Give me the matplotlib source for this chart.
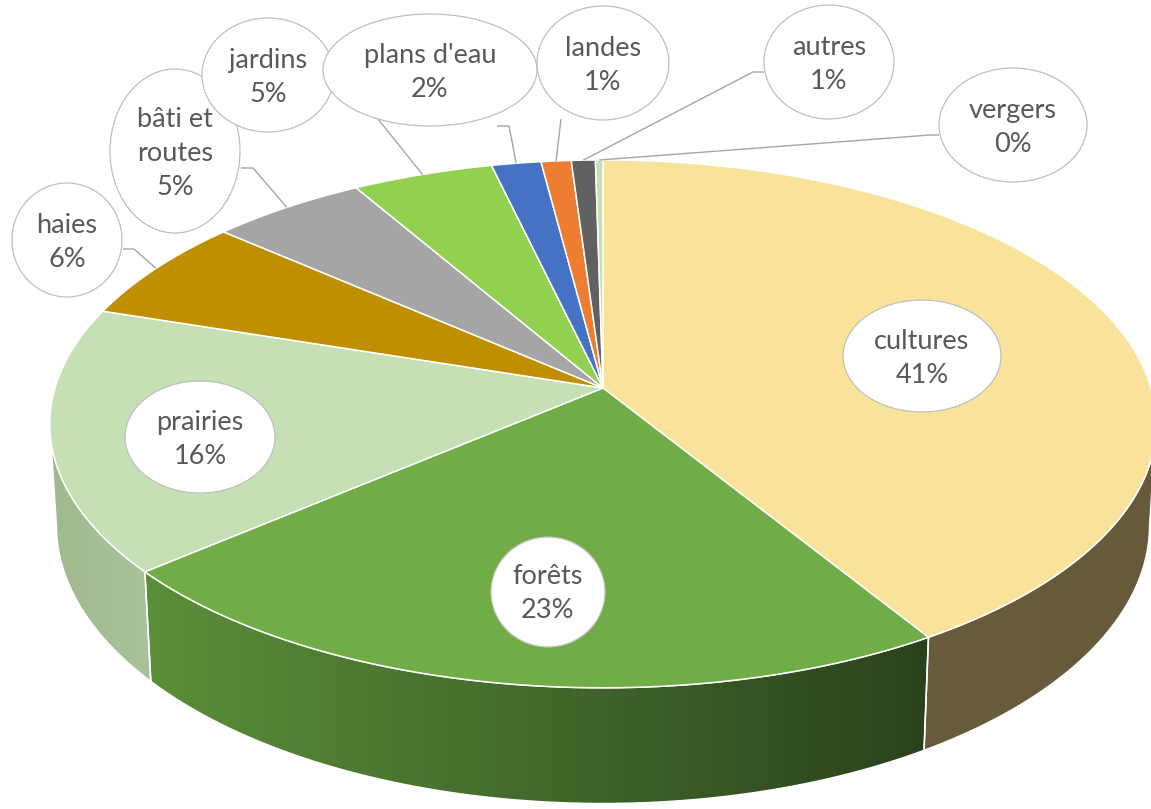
import numpy as np
import matplotlib
matplotlib.use("Agg")
import matplotlib.pyplot as plt
from matplotlib.patches import Polygon, Ellipse
from matplotlib.colors import to_rgb

plt.rcParams['font.family'] = ['Lato', 'DejaVu Sans']

# data (share of area, %)
categories = ["cultures", "forêts", "prairies", "haies", "bâti et routes",
              "jardins", "plans d'eau", "landes", "autres", "vergers"]
label_names = ["cultures", "forêts", "prairies", "haies", "bâti et\nroutes",
               "jardins", "plans d'eau", "landes", "autres", "vergers"]
shares = [41.2, 22.6, 16.2, 6.4, 5.2, 4.7, 1.65, 1.0, 0.8, 0.25]

top_colors = ["#F9E29A", "#70AD47", "#C5E0B4", "#BF8F00", "#A5A5A5",
              "#92D050", "#4472C4", "#ED7D31", "#616161", "#C5E0B4"]
# side wall colours (left, right) for a horizontal gradient
wall_colors = [("#695C3D", "#675A3B"), ("#5B8F3A", "#2A421C"), ("#9FBA8E", "#A8C29B"),
               ("#8F6B00", "#8F6B00"), ("#7C7C7C", "#7C7C7C"), ("#6E9C3C", "#6E9C3C"),
               ("#335593", "#335593"), ("#B25E25", "#B25E25"), ("#494949", "#494949"),
               ("#A3BE94", "#A3BE94")]

# label bubbles: centre and half sizes in pixels
label_xy = [(922, 356), (548, 592), (200, 437), (67, 240), (175, 151),
            (268, 75), (430, 70), (603, 63), (829, 62), (1013, 125)]
label_half = [(79, 56), (57, 55), (75, 56), (55, 57), (65, 82),
              (66, 57), (107, 56), (66, 57), (65, 57), (74, 57)]
# leader line start points (bubble side, elbow); None = no leader
leader_start = [None, None, None,
                [(123, 249), (134, 249)],
                [(241, 168), (253, 168)],
                [(334, 64)],
                [(497, 126), (509, 126)],
                [(561, 119)],
                [(764, 72), (753, 72)],
                [(939, 135), (930, 135)]]

# projection of the tilted pie (pixels)
CX, CY = 603, 388
A, B = 548, 259
K = 0.136
H = 100
VPY = 9000


def rim(t_deg, bottom=False):
    t = np.radians(np.asarray(t_deg, dtype=float))
    u, v = np.cos(t), np.sin(t)
    d = 1 + K * v
    x = A * u / d
    y = -B * v / d
    if bottom:
        hp = H / d
        x = x * (1 - hp / (VPY - (CY + y)))
        y = y + hp
    return CX + x, CY + y


fig = plt.figure(figsize=(11.51, 8.09), dpi=100)
ax = fig.add_axes([0, 0, 1, 1])
ax.set_xlim(0, 1151)
ax.set_ylim(809, 0)
ax.axis("off")

fr = np.array(shares) / np.sum(shares)
t_hi = 90 - 360 * np.concatenate([[0], np.cumsum(fr)[:-1]])
t_lo = t_hi - 360 * fr

lo_vis = -180 + np.degrees(np.arcsin(K))
hi_vis = -np.degrees(np.arcsin(K))

# side walls
for i in range(len(shares)):
    a, b = max(t_lo[i], lo_vis), min(t_hi[i], hi_vis)
    if a >= b:
        continue
    ts = np.linspace(b, a, 200)
    xt, yt = rim(ts)
    xb, yb = rim(ts[::-1], bottom=True)
    pts = np.column_stack([np.concatenate([xt, xb]), np.concatenate([yt, yb])])
    c1, c2 = wall_colors[i]
    poly = Polygon(pts, closed=True, facecolor="none", edgecolor="none", zorder=1)
    ax.add_patch(poly)
    x0, x1 = pts[:, 0].min(), pts[:, 0].max()
    y0, y1 = pts[:, 1].min(), pts[:, 1].max()
    g = np.linspace(0, 1, 256)[None, :, None]
    img = (1 - g) * np.array(to_rgb(c1)) + g * np.array(to_rgb(c2))
    im = ax.imshow(img, extent=(x0, x1, y1, y0), aspect="auto", zorder=1,
                   interpolation="bilinear")
    im.set_clip_path(poly)
    ax.add_patch(Polygon(pts, closed=True, facecolor="none", edgecolor="white",
                         lw=1.1, joinstyle="round", zorder=2))

# top faces
for i in range(len(shares)):
    ts = np.linspace(t_hi[i], t_lo[i], max(int(abs(t_hi[i] - t_lo[i]) * 3), 4))
    xs, ys = rim(ts)
    pts = np.column_stack([np.concatenate([[CX], xs]), np.concatenate([[CY], ys])])
    ax.add_patch(Polygon(pts, closed=True, facecolor=top_colors[i], edgecolor="white",
                         lw=1.1, joinstyle="round", zorder=3))

ax.set_xlim(0, 1151)
ax.set_ylim(809, 0)

# leader lines
for i, start in enumerate(leader_start):
    if start is None:
        continue
    ex, ey = rim((t_hi[i] + t_lo[i]) / 2)
    xs = [p[0] for p in start] + [float(ex)]
    ys = [p[1] for p in start] + [float(ey)]
    ax.plot(xs, ys, color="#A6A6A6", lw=1.0, zorder=4, solid_capstyle="butt")

# label bubbles
for i, name in enumerate(label_names):
    (lx, ly), (hw, hh) = label_xy[i], label_half[i]
    ax.add_patch(Ellipse((lx, ly), 2 * hw, 2 * hh, facecolor="white",
                         edgecolor="#BFBFBF", lw=0.9, zorder=5))
    ax.text(lx, ly + 2, f"{name}\n{shares[i]:.0f}%", ha="center", va="center",
            fontsize=19.5, color="#595959", linespacing=1.45, zorder=6)

fig.savefig("out.png", dpi=100)
